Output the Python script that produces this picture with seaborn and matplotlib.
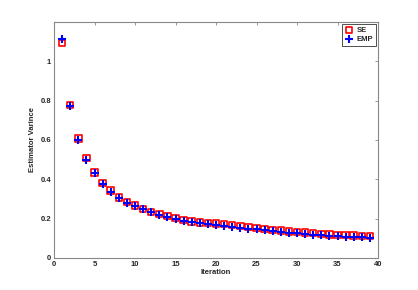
import numpy as np
import pandas as pd
import matplotlib
matplotlib.use('Agg')
import matplotlib.pyplot as plt
import seaborn as sns

iteraciones = list(range(1, 40))
se = [1.093, 0.777, 0.607, 0.509, 0.435, 0.382, 0.342, 0.308, 0.284, 0.266,
      0.250, 0.235, 0.223, 0.213, 0.203, 0.193, 0.186, 0.181, 0.178, 0.176,
      0.173, 0.168, 0.162, 0.157, 0.152, 0.147, 0.142, 0.139, 0.135, 0.132,
      0.129, 0.127, 0.123, 0.120, 0.118, 0.117, 0.115, 0.113, 0.113]
emp = [1.112, 0.772, 0.600, 0.497, 0.430, 0.374, 0.338, 0.305, 0.282, 0.262,
       0.248, 0.232, 0.219, 0.209, 0.199, 0.190, 0.183, 0.177, 0.172, 0.168,
       0.162, 0.159, 0.154, 0.150, 0.145, 0.140, 0.137, 0.132, 0.129, 0.125,
       0.122, 0.118, 0.117, 0.113, 0.112, 0.108, 0.107, 0.105, 0.102]

df = pd.DataFrame({'Iteration': iteraciones, 'SE': se, 'EMP': emp})

sns.set_style('white')
plt.rcParams['font.family'] = ['Liberation Sans', 'DejaVu Sans']
plt.rcParams['font.size'] = 5.5

fig = plt.figure(figsize=(4.18, 2.90), dpi=100)
ax = fig.add_axes([54 / 418, 32 / 290, 324 / 418, 236 / 290])

sns.scatterplot(data=df, x='Iteration', y='SE', ax=ax, marker='s', s=22,
                facecolor='none', edgecolor='red', linewidth=1.2, label='SE')
sns.scatterplot(data=df, x='Iteration', y='EMP', ax=ax, marker='+', s=35,
                color='blue', linewidth=1.5, label='EMP')

ax.set_xlim(0, 40)
ax.set_ylim(0, 1.2)
ax.set_xticks(range(0, 41, 5))
ax.set_yticks([0, 0.2, 0.4, 0.6, 0.8, 1])
ax.set_yticklabels(['0', '0.2', '0.4', '0.6', '0.8', '1'])
ax.set_xlabel('Iteration', fontsize=5.5, fontweight='bold', labelpad=1)
ax.set_ylabel('Estimator Varince', fontsize=5.5, fontweight='bold', labelpad=3)
ax.tick_params(direction='in', length=2, width=0.6, color='#888888',
               labelsize=5.5, top=True, right=True, pad=2)
for lbl in ax.get_xticklabels() + ax.get_yticklabels():
    lbl.set_fontweight('bold')
for sp in ax.spines.values():
    sp.set_color('#888888')
    sp.set_linewidth(0.8)

leg = ax.legend(loc='upper right', fontsize=5.5, frameon=True, fancybox=False,
                handletextpad=0.4, borderpad=0.35, labelspacing=0.25,
                handlelength=1.2, borderaxespad=0.25)
leg.get_frame().set_edgecolor('black')
leg.get_frame().set_linewidth(0.6)
for t in leg.get_texts():
    t.set_fontweight('bold')

fig.savefig('out.png', dpi=100)
